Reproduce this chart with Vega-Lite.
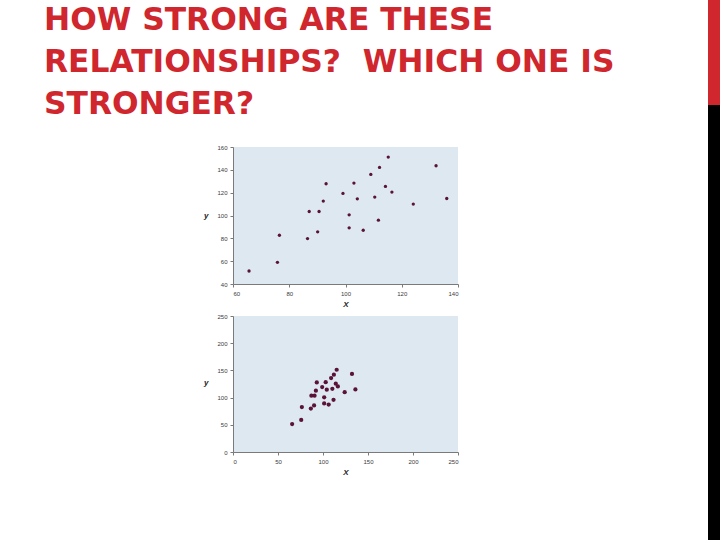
{
  "$schema": "https://vega.github.io/schema/vega-lite/v6.json",
  "padding": {"left": 44, "top": 0, "right": 0, "bottom": 0},
  "background": "white",
  "config": {
    "view": {"stroke": null},
    "axis": {"grid": false, "domainColor": "#7a7a7a", "tickColor": "#7a7a7a", "tickSize": 3, "labelFont": "Liberation Sans", "labelFontSize": 6, "labelColor": "#3a3a3a", "labelPadding": 3, "titleFont": "Liberation Sans", "titleFontSize": 8, "titleFontWeight": "bold", "titleFontStyle": "italic", "titleColor": "#222222"}
  },
  "datasets": {
    "pts": [
      {"x": 65.7, "y": 51.4}, {"x": 75.8, "y": 59.0}, {"x": 76.5, "y": 82.7}, {"x": 86.5, "y": 79.8},
      {"x": 87.1, "y": 103.5}, {"x": 90.1, "y": 85.7}, {"x": 90.6, "y": 103.5}, {"x": 92.1, "y": 112.6},
      {"x": 93.1, "y": 127.8}, {"x": 99.1, "y": 119.3}, {"x": 101.3, "y": 100.6}, {"x": 101.3, "y": 89.2},
      {"x": 103.0, "y": 128.4}, {"x": 104.2, "y": 114.6}, {"x": 106.3, "y": 87.1}, {"x": 109.0, "y": 136.0},
      {"x": 110.4, "y": 116.1}, {"x": 111.7, "y": 95.9}, {"x": 112.1, "y": 142.1}, {"x": 114.2, "y": 125.5},
      {"x": 115.2, "y": 151.2}, {"x": 116.5, "y": 120.5}, {"x": 124.1, "y": 110.0}, {"x": 132.2, "y": 143.6},
      {"x": 136.0, "y": 114.9}
    ],
    "lines": [
      {"line": 1, "text": "HOW STRONG ARE THESE"},
      {"line": 2, "text": "RELATIONSHIPS?\u00a0 WHICH ONE IS"},
      {"line": 3, "text": "STRONGER?"}
    ],
    "one": [{}]
  },
  "bounds": "flush",
  "spacing": 475,
  "hconcat": [
    {
      "bounds": "flush",
      "spacing": 21,
      "vconcat": [
        {
          "width": 225, "height": 126,
          "data": {"name": "lines"},
          "mark": {"type": "text", "align": "left", "baseline": "middle", "dx": -189, "font": "DejaVu Sans", "fontSize": 31.3, "fontWeight": "bold", "color": "#d0262d"},
          "encoding": {
            "x": {"datum": 0, "type": "quantitative", "scale": {"domain": [0, 1]}, "axis": null},
            "y": {"field": "line", "type": "ordinal", "scale": {"paddingInner": 0, "paddingOuter": 0}, "axis": null},
            "text": {"field": "text"}
          }
        },
        {
          "bounds": "flush",
          "spacing": 32,
          "vconcat": [
            {
              "width": 225, "height": 137,
              "view": {"fill": "#dde8f1", "stroke": null},
              "data": {"name": "pts"},
              "mark": {"type": "circle", "size": 11, "opacity": 1, "color": "#5a1236"},
              "encoding": {
                "x": {"field": "x", "type": "quantitative", "scale": {"domain": [60, 140], "nice": false, "zero": false}, "axis": {"values": [60, 80, 100, 120, 140], "title": "X", "titlePadding": 4}},
                "y": {"field": "y", "type": "quantitative", "scale": {"domain": [40, 160], "nice": false, "zero": false}, "axis": {"values": [40, 60, 80, 100, 120, 140, 160], "title": "y", "titleAngle": 0, "titleAlign": "right", "titleBaseline": "middle", "titleX": -25, "titleY": 68}}
              }
            },
            {
              "width": 225, "height": 136,
              "view": {"fill": "#dde8f1", "stroke": null},
              "data": {"name": "pts"},
              "mark": {"type": "circle", "size": 18, "opacity": 1, "color": "#5a1236"},
              "encoding": {
                "x": {"field": "x", "type": "quantitative", "scale": {"domain": [0, 250], "nice": false}, "axis": {"values": [0, 50, 100, 150, 200, 250], "title": "X", "titlePadding": 4}},
                "y": {"field": "y", "type": "quantitative", "scale": {"domain": [0, 250], "nice": false}, "axis": {"values": [0, 50, 100, 150, 200, 250], "title": "y", "titleAngle": 0, "titleAlign": "right", "titleBaseline": "middle", "titleX": -25, "titleY": 66}}
              }
            }
          ]
        }
      ]
    },
    {
      "bounds": "flush",
      "spacing": 0,
      "vconcat": [
        {"width": 12, "height": 105, "data": {"name": "one"}, "mark": {"type": "rect", "color": "#d0262d"}, "encoding": {}},
        {"width": 12, "height": 435, "data": {"name": "one"}, "mark": {"type": "rect", "color": "#000000"}, "encoding": {}}
      ]
    }
  ]
}
